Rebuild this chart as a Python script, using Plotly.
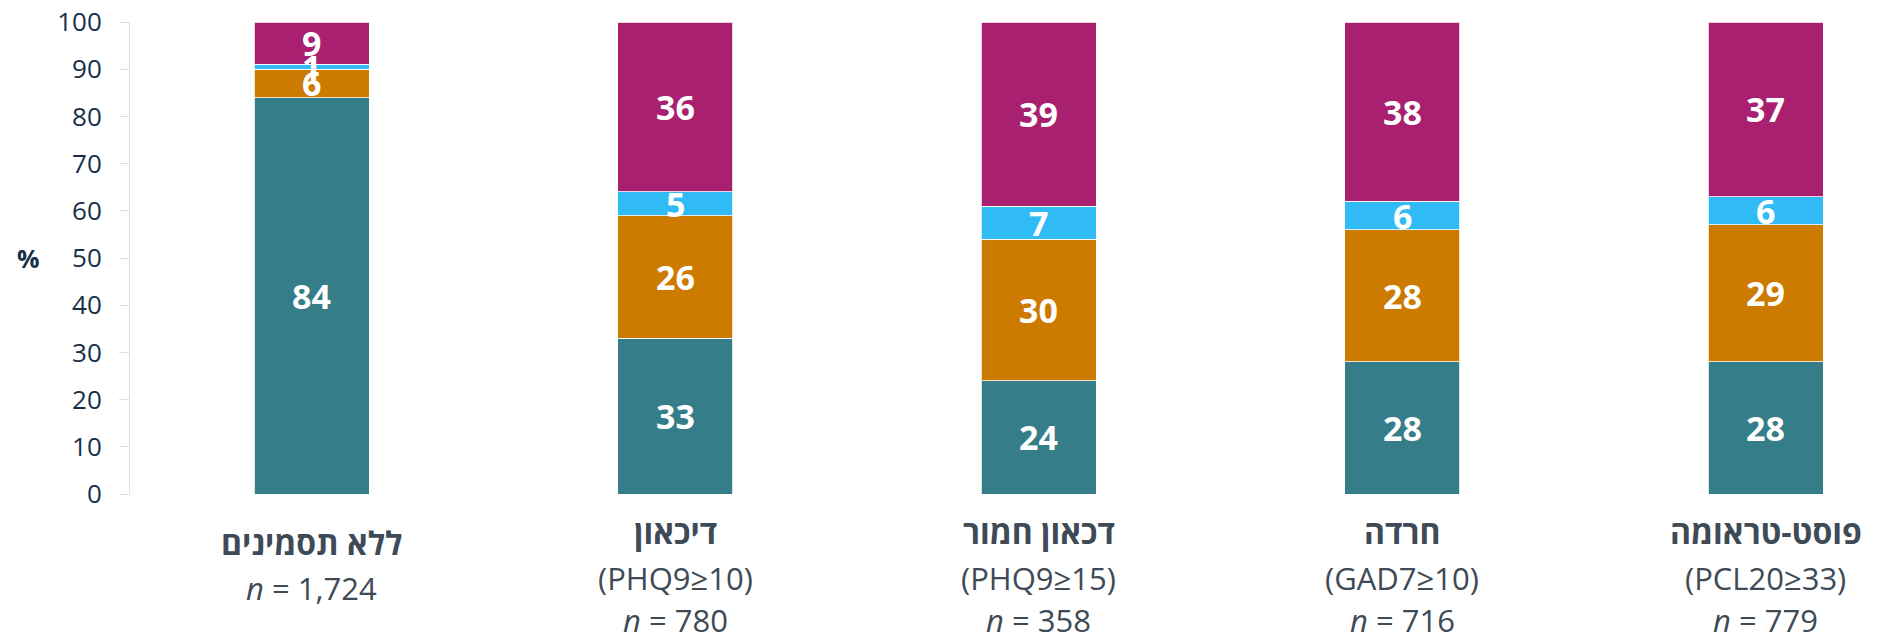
import plotly.graph_objects as go

# ---- data ----
categories = ["ללא תסמינים", "דיכאון", "דכאון חמור", "חרדה", "פוסט-טראומה"]
criteria = ["", "(PHQ9≥10)", "(PHQ9≥15)", "(GAD7≥10)", "(PCL20≥33)"]
n_values = ["1,724", "780", "358", "716", "779"]

series_names = ["s1", "s2", "s3", "s4"]
teal_vals = [84, 33, 24, 28, 28]
orange_vals = [6, 26, 30, 28, 29]
blue_vals = [1, 5, 7, 6, 6]
magenta_vals = [9, 36, 39, 38, 37]

y_ticks = [0, 10, 20, 30, 40, 50, 60, 70, 80, 90, 100]

# ---- styles ----
colors = ["#367D8A", "#CC7A00", "#30BBF5", "#A8206F"]
W, H = 1885, 643
M_L, M_R, M_T, M_B = 130, 0, 22, 149
plot_h = H - M_T - M_B

def py_to_paper(py):
    return (H - M_B - py) / plot_h

fig = go.Figure()
xs = list(range(len(categories)))
all_series = [teal_vals, orange_vals, blue_vals, magenta_vals]
for name, vals, col in zip(series_names, all_series, colors):
    fig.add_trace(go.Bar(
        x=xs, y=vals, name=name,
        marker=dict(color=col, line=dict(color="rgba(255,255,255,0.8)", width=1)),
        width=0.316,
        showlegend=False,
        hoverinfo="skip",
    ))

annotations = []
# value labels drawn on top of all bars (midpoint of each stacked segment)
base = [0] * len(categories)
for vals in all_series:
    for i, (b, v) in enumerate(zip(base, vals)):
        annotations.append(dict(
            x=i, y=b + v / 2, xref="x", yref="y", text=str(v), showarrow=False,
            xanchor="center", yanchor="middle",
            font=dict(family="Open Sans", size=34, color="white", weight="bold"),
        ))
    base = [b + v for b, v in zip(base, vals)]

for i, (cat, crit, n) in enumerate(zip(categories, criteria, n_values)):
    if crit:
        lines = [(cat, 531, True), (crit, 578, False), ("<i>n</i> = " + n, 620, False)]
    else:
        lines = [(cat, 542, True), ("<i>n</i> = " + n, 588, False)]
    for txt, py, bold in lines:
        annotations.append(dict(
            x=i, y=py_to_paper(py), xref="x", yref="paper",
            text=txt, showarrow=False, xanchor="center", yanchor="middle",
            font=dict(family="Open Sans", size=32 if bold else 31, color="#3E4A55",
                      weight="bold" if bold else "normal"),
        ))

annotations.append(dict(
    x=(28 - M_L) / (W - M_L - M_R), y=py_to_paper(258), xref="paper", yref="paper",
    text="%", showarrow=False, xanchor="center", yanchor="middle",
    font=dict(family="Open Sans", size=25, color="#17304A", weight="bold"),
))

fig.update_layout(
    width=W, height=H,
    margin=dict(l=M_L, r=M_R, t=M_T, b=M_B, autoexpand=False),
    barmode="stack",
    plot_bgcolor="white", paper_bgcolor="white",
    annotations=annotations,
    xaxis=dict(range=[-0.5, 4.328], showticklabels=False, showgrid=False,
               zeroline=False, showline=False, ticks=""),
    yaxis=dict(range=[0, 100], tickvals=y_ticks, showgrid=False, zeroline=False,
               showline=True, linecolor="#DADFE5", linewidth=1,
               ticks="outside", ticklen=10, tickcolor="#DADFE5",
               ticklabelstandoff=12,
               tickfont=dict(family="Open Sans", size=26, color="#17304A")),
)

fig.write_html("out.html", config={"displayModeBar": False},
               post_script="document.body.style.margin='0';document.body.style.overflow='hidden';")
